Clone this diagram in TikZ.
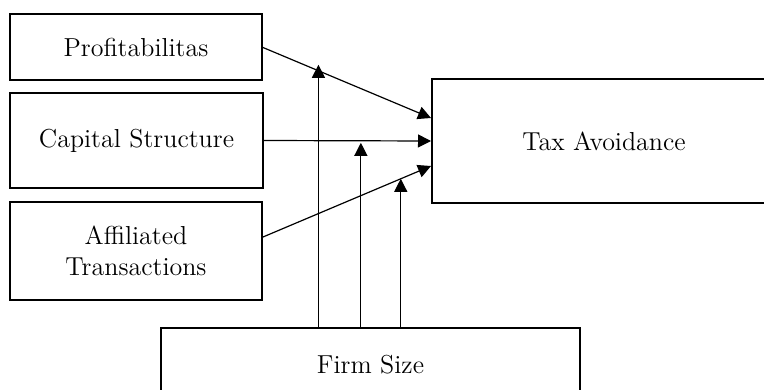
\documentclass[tikz,border=0pt]{standalone}
\usetikzlibrary{arrows.meta}
\begin{document}
\begin{tikzpicture}[x=0.5pt,y=-0.5pt,
  box/.style={draw,line width=1pt,inner sep=0pt,align=center,font=\fontsize{13}{15.5}\selectfont},
  link/.style={line width=0.6pt,-{Triangle[length=6.5pt,width=6.5pt]}}]
\useasboundingbox (0,0) rectangle (764,390);
\node[box,minimum width=126pt,minimum height=33pt] (prof) at (136,47.5) {Profitabilitas};
\node[box,minimum width=126.5pt,minimum height=47.5pt] (cap) at (136.5,140.5) {Capital Structure};
\node[box,minimum width=126pt,minimum height=49pt] (aff) at (136,251) {Affiliated\\Transactions};
\node[box,minimum width=172pt,minimum height=62pt] (tax) at (604,141) {Tax Avoidance};
\node[box,minimum width=209.5pt,minimum height=37pt] (firm) at (370.5,365) {Firm Size};
\draw[link] (prof.east) -- coordinate[pos=0.33] (m1) ([yshift=11.5pt]tax.west);
\draw[link] (cap.east) -- coordinate[pos=0.58] (m2) (tax.west);
\draw[link] ([yshift=7pt]aff.east) -- coordinate[pos=0.82] (m3) ([yshift=-12.5pt]tax.west);
\draw[link] (m1 |- firm.north) -- ([yshift=3pt]m1);
\draw[link] (m2 |- firm.north) -- ([yshift=-1pt]m2);
\draw[link] (m3 |- firm.north) -- (m3);
\end{tikzpicture}
\end{document}
